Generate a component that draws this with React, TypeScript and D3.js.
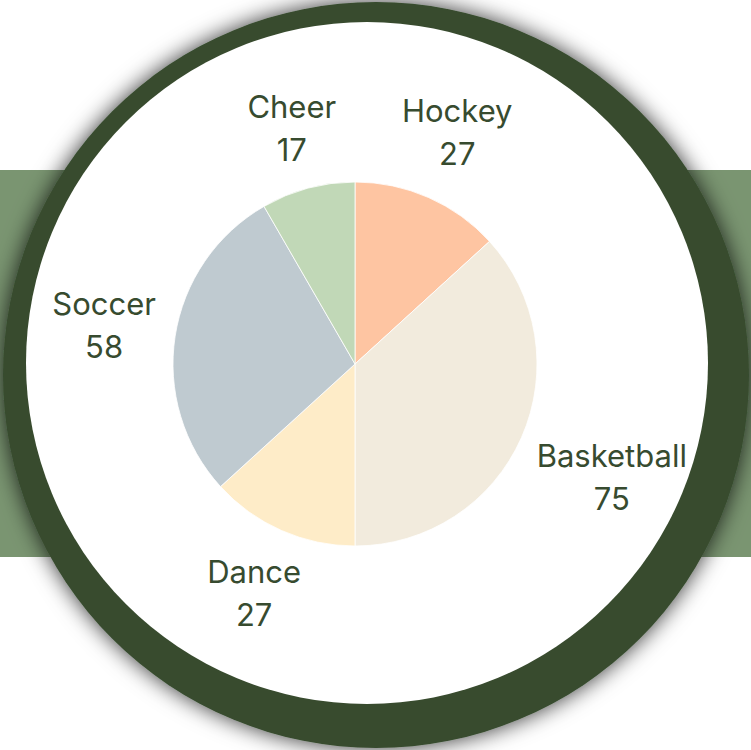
import React, { useEffect, useRef } from "react";
import * as d3 from "d3";

const categories = ["Hockey", "Basketball", "Dance", "Soccer", "Cheer"];
const values = [27, 75, 27, 58, 17];
const sliceColors = ["#fec5a2", "#f2ebdd", "#feecc8", "#bfcad0", "#c1d8b7"];

const W = 751;
const H = 750;
const DARK = "#374b2f";
const BAND = "#7a9571";

export default function App() {
  const ref = useRef<SVGSVGElement | null>(null);

  useEffect(() => {
    const svg = d3.select(ref.current);
    svg.selectAll("*").remove();

    const defs = svg.append("defs");
    const f = defs
      .append("filter")
      .attr("id", "shadow")
      .attr("x", "-20%")
      .attr("y", "-20%")
      .attr("width", "140%")
      .attr("height", "140%");
    f.append("feDropShadow")
      .attr("dx", 0)
      .attr("dy", 0)
      .attr("stdDeviation", 11)
      .attr("flood-color", "#000")
      .attr("flood-opacity", 0.8);

    // background band
    svg.append("rect").attr("x", 0).attr("y", 170).attr("width", W).attr("height", 387).attr("fill", BAND);

    // ring
    svg.append("circle").attr("cx", 376).attr("cy", 375).attr("r", 373).attr("fill", DARK).attr("filter", "url(#shadow)");
    svg.append("circle").attr("cx", 367).attr("cy", 363).attr("r", 341).attr("fill", "#fff");

    const cx = 355;
    const cy = 364;
    const r = 182;
    const g = svg.append("g").attr("transform", `translate(${cx},${cy})`);

    const data = categories.map((c, i) => ({ name: c, value: values[i], color: sliceColors[i] }));
    const pie = d3.pie<any>().value((d: any) => d.value).sort(null);
    const arcs = pie(data);
    const arc = d3.arc<any>().innerRadius(0).outerRadius(r);

    g.selectAll("path.slice")
      .data(arcs)
      .join("path")
      .attr("class", "slice")
      .attr("d", arc as any)
      .attr("fill", (d: any) => d.data.color)
      .attr("stroke", "#fff")
      .attr("stroke-width", 0.8);

    const fontSize = 31;
    const gap = 43;
    const r0 = 197;
    arcs.forEach((a: any) => {
      const mid = (a.startAngle + a.endAngle) / 2;
      const s = Math.sin(mid);
      const c = Math.cos(mid);
      const lg = g.append("g");
      const t1 = lg
        .append("text")
        .attr("text-anchor", "middle")
        .attr("dominant-baseline", "central")
        .attr("font-family", "Inter, 'Noto Sans', sans-serif")
        .attr("font-size", fontSize)
        .attr("fill", DARK)
        .attr("y", -gap / 2)
        .text(a.data.name);
      const t2 = lg
        .append("text")
        .attr("text-anchor", "middle")
        .attr("dominant-baseline", "central")
        .attr("font-family", "Inter, 'Noto Sans', sans-serif")
        .attr("font-size", fontSize)
        .attr("fill", DARK)
        .attr("y", gap / 2)
        .text(String(a.data.value));
      const w1 = (t1.node() as SVGTextElement).getComputedTextLength();
      const w2 = (t2.node() as SVGTextElement).getComputedTextLength();
      const hw = Math.max(w1, w2) / 2;
      const hh = (gap + fontSize) / 2;
      const R = r0 + Math.abs(s) * hw + Math.abs(c) * hh;
      lg.attr("transform", `translate(${R * s},${-R * c})`);
    });
  }, []);

  return (
    <svg
      ref={ref}
      width={W}
      height={H}
      style={{ position: "absolute", left: 0, top: 0, display: "block" }}
    />
  );
}
